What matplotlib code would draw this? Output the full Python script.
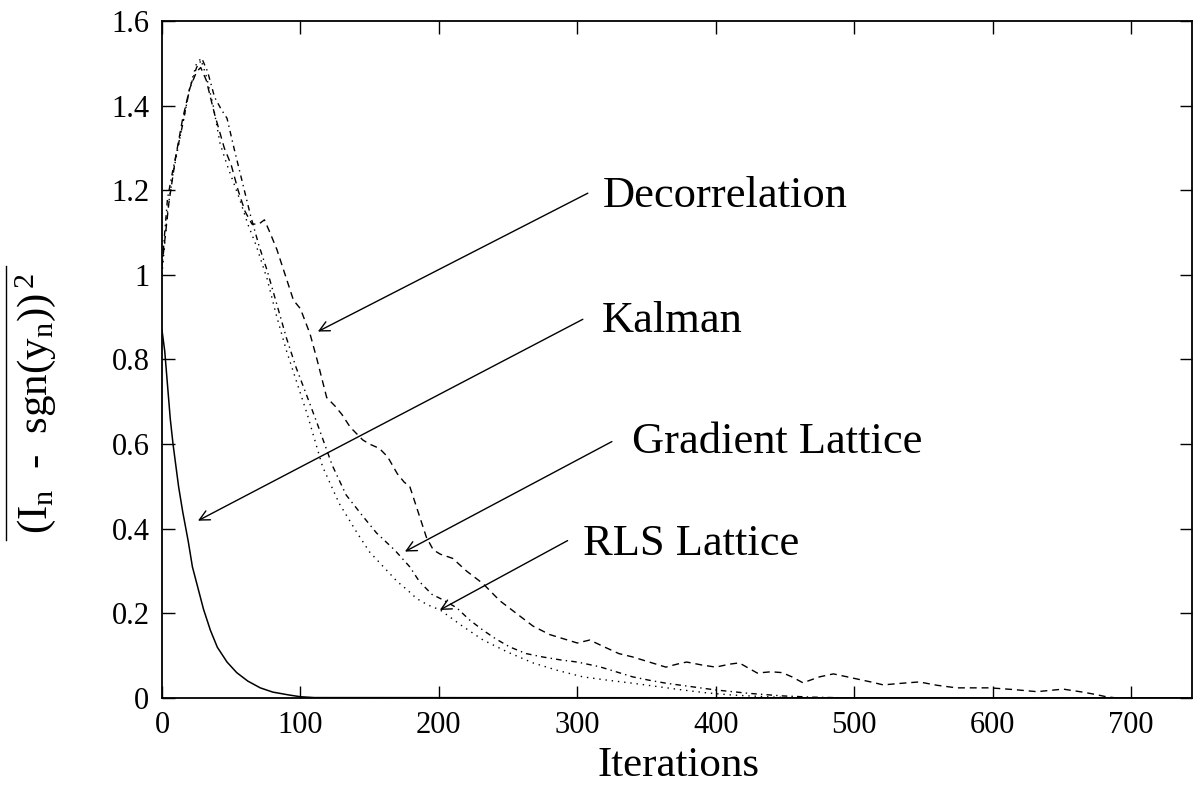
import numpy as np
import matplotlib
matplotlib.use('Agg')
import matplotlib.pyplot as plt
from matplotlib.lines import Line2D

plt.rcParams['font.family'] = ['Liberation Serif', 'DejaVu Serif']
plt.rcParams['mathtext.fontset'] = 'custom'
plt.rcParams['mathtext.rm'] = 'Liberation Serif'
plt.rcParams['mathtext.it'] = 'Liberation Serif:italic'

# values
decor_x = [0, 5, 10, 15, 20, 25, 28, 32, 38, 45, 50, 55, 60, 65, 70, 74, 78, 83, 88, 95,
           100, 107, 112, 119, 125, 130, 136, 145, 150, 157, 163, 170, 175, 179, 185, 191,
           196, 201, 210, 220, 232, 244, 256, 268, 280, 290, 300, 309, 320, 330, 340, 352,
           364, 372, 379, 390, 400, 410, 417, 424, 430, 440, 448, 455, 463, 475, 485, 495,
           502, 512, 521, 535, 547, 560, 574, 585, 598, 615, 632, 651, 665, 675, 682, 690, 745]
decor_y = [1.02, 1.17, 1.28, 1.37, 1.44, 1.48, 1.49, 1.46, 1.38, 1.30, 1.26, 1.20, 1.15, 1.12,
           1.12, 1.13, 1.10, 1.06, 1.01, 0.94, 0.92, 0.86, 0.80, 0.71, 0.69, 0.67, 0.64, 0.61,
           0.60, 0.59, 0.57, 0.53, 0.51, 0.50, 0.44, 0.38, 0.35, 0.34, 0.33, 0.30, 0.27, 0.23,
           0.20, 0.17, 0.15, 0.14, 0.13, 0.137, 0.12, 0.105, 0.097, 0.085, 0.073, 0.08, 0.085,
           0.078, 0.073, 0.08, 0.083, 0.07, 0.059, 0.062, 0.06, 0.05, 0.036, 0.05, 0.057, 0.05,
           0.045, 0.038, 0.031, 0.035, 0.038, 0.03, 0.024, 0.024, 0.024, 0.02, 0.015, 0.021,
           0.014, 0.008, 0.003, 0.0, 0.0]

kalman_x = [0, 2, 4, 6, 8, 12, 15, 19, 22, 26, 30, 35, 40, 47, 54, 62, 71, 80, 92, 100, 110, 745]
kalman_y = [0.87, 0.82, 0.74, 0.66, 0.60, 0.50, 0.44, 0.37, 0.31, 0.26, 0.21, 0.16, 0.12,
            0.085, 0.06, 0.04, 0.024, 0.014, 0.007, 0.003, 0.001, 0.0]

grad_x = [0, 4, 8, 14, 20, 25, 29, 33, 38, 43, 47, 52, 58, 64, 70, 76, 83, 90, 97, 104, 112,
          123, 133, 145, 155, 168, 179, 186, 195, 203, 213, 222, 232, 241, 251, 263, 275, 288,
          300, 316, 328, 340, 352, 364, 382, 400, 412, 424, 436, 448, 470, 500, 745]
grad_y = [1.02, 1.18, 1.25, 1.34, 1.44, 1.49, 1.51, 1.48, 1.42, 1.39, 1.37, 1.30, 1.22, 1.14,
          1.07, 1.01, 0.93, 0.85, 0.78, 0.72, 0.65, 0.55, 0.48, 0.43, 0.39, 0.35, 0.31, 0.275,
          0.245, 0.232, 0.213, 0.185, 0.16, 0.14, 0.121, 0.105, 0.097, 0.09, 0.085, 0.074,
          0.062, 0.05, 0.042, 0.035, 0.027, 0.019, 0.015, 0.011, 0.008, 0.005, 0.002, 0.0, 0.0]

rls_x = [0, 4, 8, 14, 20, 25, 28, 32, 37, 42, 47, 56, 62, 68, 76, 83, 90, 97, 105, 116, 128,
         141, 150, 160, 170, 177, 184, 192, 201, 217, 232, 250, 268, 286, 304, 322, 340, 358,
         376, 394, 412, 436, 460, 745]
rls_y = [1.0, 1.15, 1.24, 1.34, 1.44, 1.50, 1.51, 1.47, 1.40, 1.31, 1.26, 1.18, 1.12, 1.07,
         0.99, 0.90, 0.82, 0.75, 0.67, 0.547, 0.46, 0.39, 0.345, 0.31, 0.275, 0.256, 0.235,
         0.22, 0.208, 0.17, 0.137, 0.108, 0.083, 0.065, 0.05, 0.042, 0.035, 0.027, 0.019,
         0.012, 0.007, 0.003, 0.0, 0.0]

xticks = [0, 100, 200, 300, 400, 500, 600, 700]
yticks = [0, 0.2, 0.4, 0.6, 0.8, 1.0, 1.2, 1.4, 1.6]
ytick_labels = ['0', '0.2', '0.4', '0.6', '0.8', '1', '1.2', '1.4', '1.6']

fig = plt.figure(figsize=(11.97, 7.88), dpi=100)
ax = fig.add_axes([0.1353, 0.1142, 0.8605, 0.8592])

ax.plot(decor_x, decor_y, color='k', lw=1.0, dashes=(5, 3.5))
ax.plot(kalman_x, kalman_y, color='k', lw=1.1, linestyle='-')
ax.plot(grad_x, grad_y, color='k', lw=1.0, dashes=(4, 3, 1, 3))
ax.plot(rls_x, rls_y, color='k', lw=1.0, dashes=(1, 3.5))

ax.set_xlim(0, 744)
ax.set_ylim(0, 1.6)
ax.set_xticks(xticks)
ax.set_xticklabels([str(t) for t in xticks])
ax.set_yticks(yticks)
ax.set_yticklabels(ytick_labels)
ax.tick_params(direction='in', length=9, width=1, labelsize=22, pad=9,
               top=True, right=True)
for s in ax.spines.values():
    s.set_linewidth(1.3)

arrow = dict(arrowstyle='->', color='k', lw=1.0, mutation_scale=18, shrinkA=0, shrinkB=0)
notes = [('Decorrelation', (112.6, 0.866), (307.6, 1.193), (318.4, 1.16)),
         ('Kalman', (26.0, 0.419), (304.0, 0.895), (317.7, 0.864)),
         ('Gradient Lattice', (175.5, 0.346), (325.0, 0.606), (339.4, 0.58)),
         ('RLS Lattice', (200.7, 0.208), (293.0, 0.372), (304.0, 0.338))]
for label, tip, start, pos in notes:
    ax.annotate('', xy=tip, xytext=start, arrowprops=arrow)
    ax.text(pos[0], pos[1], label, fontsize=32, ha='left', va='baseline')

fig.text(0.567, 0.004, 'Iterations', fontsize=31, ha='center', va='bottom')
fig.text(0.030, 0.488, r'$\mathrm{(I_n}\ \ \text{-}\ \ \mathrm{sgn(y_n))}^{\,2}$',
         fontsize=31, rotation=90, ha='center', va='center')
fig.add_artist(Line2D([0.005, 0.005], [0.315, 0.662], color='k', lw=1.0,
                      transform=fig.transFigure))

fig.savefig('out.png', dpi=100)
